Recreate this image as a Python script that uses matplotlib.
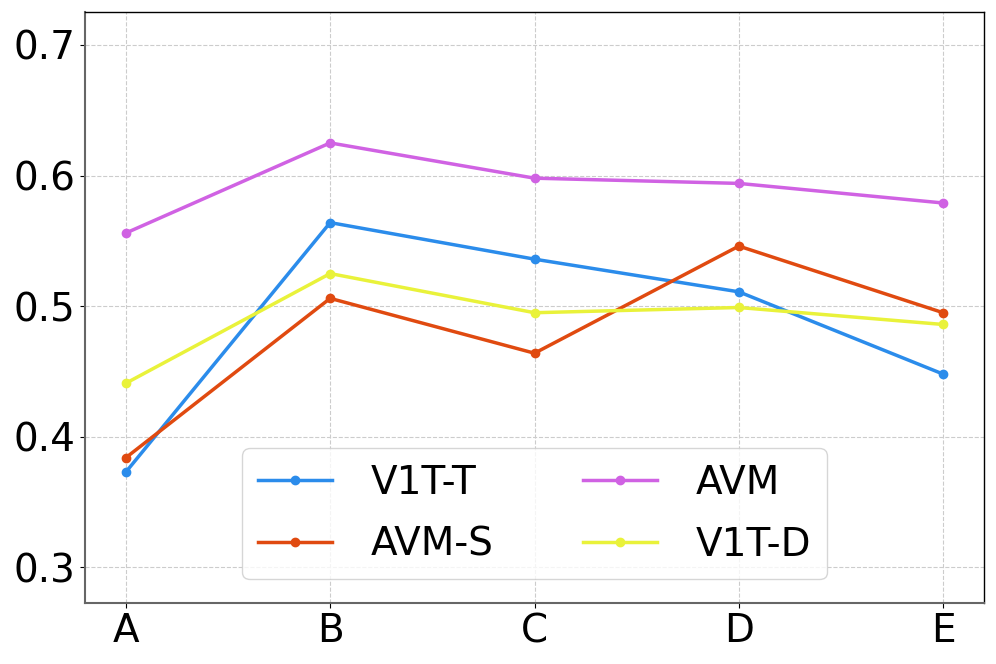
import matplotlib
matplotlib.use("Agg")
import matplotlib.pyplot as plt


# -----------------------------------------------------------
# Datos
# -----------------------------------------------------------

categorias = ["A", "B", "C", "D", "E"]

v1t_t = [0.373, 0.564, 0.536, 0.511, 0.448]
avm_s = [0.384, 0.506, 0.464, 0.546, 0.495]
avm = [0.556, 0.625, 0.598, 0.594, 0.579]
v1t_d = [0.441, 0.525, 0.495, 0.499, 0.486]

series = [
    ("V1T-T", v1t_t, "#2b8ceb"),
    ("AVM-S", avm_s, "#e04a10"),
    ("AVM", avm, "#d062e3"),
    ("V1T-D", v1t_d, "#e9f23a"),
]


# -----------------------------------------------------------
# Gráfico
# -----------------------------------------------------------

fig = plt.figure(figsize=(9.96, 6.64), dpi=100)
ax = fig.add_axes([0.0853, 0.0923, 0.9027, 0.8892])

x = list(range(len(categorias)))
for nombre, valores, color in series:
    ax.plot(x, valores, marker="o", markersize=6, linewidth=2.5,
            color=color, label=nombre)

ax.set_xlim(-0.2, 4.2)
ax.set_ylim(0.273, 0.725)
ax.set_xticks(x)
ax.set_xticklabels(categorias)
ax.set_yticks([0.3, 0.4, 0.5, 0.6, 0.7])
ax.tick_params(labelsize=28)

ax.grid(True, linestyle="--", color="#cccccc", linewidth=0.8)
ax.set_axisbelow(True)

for lado in ["left", "bottom"]:
    ax.spines[lado].set_color("#666666")
    ax.spines[lado].set_linewidth(1.5)
for lado in ["top", "right"]:
    ax.spines[lado].set_color("black")
    ax.spines[lado].set_linewidth(1.0)

ax.legend(loc="lower center", ncol=2, fontsize=28, handlelength=1.9,
          handletextpad=1.0, columnspacing=2.3, labelspacing=0.62,
          borderaxespad=0.6)

fig.savefig("out.png", dpi=100)
